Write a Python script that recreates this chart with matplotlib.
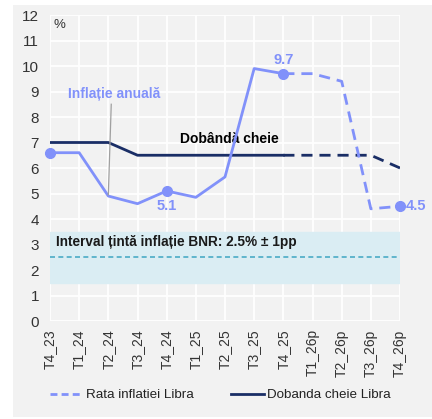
import matplotlib.pyplot as plt
from matplotlib.patches import Rectangle

plt.rcParams['font.family'] = ['Liberation Sans', 'DejaVu Sans']

QUARTERS = ["T4_23", "T1_24", "T2_24", "T3_24", "T4_24", "T1_25", "T2_25",
            "T3_25", "T4_25", "T1_26p", "T2_26p", "T3_26p", "T4_26p"]

# realised values (up to T4_25)
INFL_HIST = [6.6, 6.6, 4.9, 4.6, 5.1, 4.85, 5.65, 9.9, 9.7]
RATE_HIST = [7.0, 7.0, 7.0, 6.5, 6.5, 6.5, 6.5, 6.5, 6.5]
# forecast (from T4_25 on)
INFL_FC = [9.7, 9.7, 9.4, 4.4, 4.5]
RATE_FC = [6.5, 6.5, 6.5, 6.5, 6.0]

TARGET = 2.5
BAND = 1.0

LIGHT = "#8191fa"
NAVY = "#1a2e66"
BG = "#f2f2f2"

fig = plt.figure(figsize=(4.32, 4.19), dpi=100)
fig.patches.append(Rectangle((13 / 432, 2 / 419), 419 / 432, 412 / 419,
                             transform=fig.transFigure, facecolor=BG,
                             edgecolor="none", zorder=-10))
ax = fig.add_axes([50 / 432, 1 - 321 / 419, 350 / 432, 306 / 419])
ax.set_facecolor(BG)

x_hist = list(range(len(INFL_HIST)))
x_fc = list(range(len(INFL_HIST) - 1, len(QUARTERS)))

# target band
ax.axhspan(TARGET - BAND, TARGET + BAND, color="#daedf3", zorder=1)
ax.axhline(TARGET, color="#4bacc6", lw=1.2, ls=(0, (3, 2)), zorder=2)

ax.plot(x_hist, INFL_HIST, color=LIGHT, lw=2, zorder=4)
ax.plot(x_fc, INFL_FC, color=LIGHT, lw=2, ls=(0, (4, 2.5)), zorder=4)
ax.plot(x_hist, RATE_HIST, color=NAVY, lw=2, zorder=3)
ax.plot(x_fc, RATE_FC, color=NAVY, lw=2, ls=(0, (4, 2.5)), zorder=3)

# highlighted points
for i in [0, 4, 8]:
    ax.plot(i, INFL_HIST[i], "o", color=LIGHT, ms=7, zorder=5, clip_on=False)
ax.plot(len(QUARTERS) - 1, INFL_FC[-1], "o", color=LIGHT, ms=7, zorder=5, clip_on=False)

ax.text(8, INFL_HIST[8] + 0.25, "9.7", color=LIGHT, fontsize=10.5,
        fontweight="bold", ha="center", va="bottom")
ax.text(4, INFL_HIST[4] - 0.3, "5.1", color=LIGHT, fontsize=10.5,
        fontweight="bold", ha="center", va="top")
ax.text(12.2, INFL_FC[-1], "4.5", color=LIGHT, fontsize=10.5,
        fontweight="bold", ha="left", va="center", clip_on=False)

ax.text(0.6, 8.9, "Inflație anuală", color=LIGHT, fontsize=10,
        fontweight="bold", ha="left", va="center")
ax.plot([2.1, 2.0], [8.5, 4.95], color="#a0a0a0", lw=0.9, zorder=6)
ax.text(4.45, 7.15, "Dobândă cheie", color="black", fontsize=10,
        fontweight="bold", ha="left", va="center")
ax.text(0.2, 3.1, "Interval țintă inflație BNR: 2.5% ± 1pp", color="#1a1a1a",
        fontsize=9.8, fontweight="bold", ha="left", va="center")
ax.text(0.12, 11.6, "%", fontsize=9.5, color="#333333", ha="left", va="center")

ax.set_xlim(0, len(QUARTERS) - 1)
ax.set_ylim(0, 12)
ax.set_xticks(range(len(QUARTERS)))
ax.set_xticklabels(QUARTERS, rotation=90, fontsize=10, color="#333333")
ax.set_yticks(range(0, 13))
ax.tick_params(axis="y", labelsize=11, length=0, pad=8, labelcolor="#333333")
ax.tick_params(axis="x", length=0, pad=6)
ax.grid(True, color="white", lw=1.3, zorder=0)
ax.set_axisbelow(True)
for s in ax.spines.values():
    s.set_visible(False)

h1, = ax.plot([], [], color=LIGHT, lw=2, ls=(0, (2.5, 1.5)))
h2, = ax.plot([], [], color=NAVY, lw=2)
fig.legend([h1, h2], ["Rata inflatiei Libra", "Dobanda cheie Libra"],
           loc="center", bbox_to_anchor=(0.51, 1 - 395 / 419), ncol=2,
           frameon=False, fontsize=9.6, handlelength=2.5, handletextpad=0.2,
           columnspacing=2.8, labelcolor="#222222")

fig.savefig("out.png", dpi=100, facecolor="white")
